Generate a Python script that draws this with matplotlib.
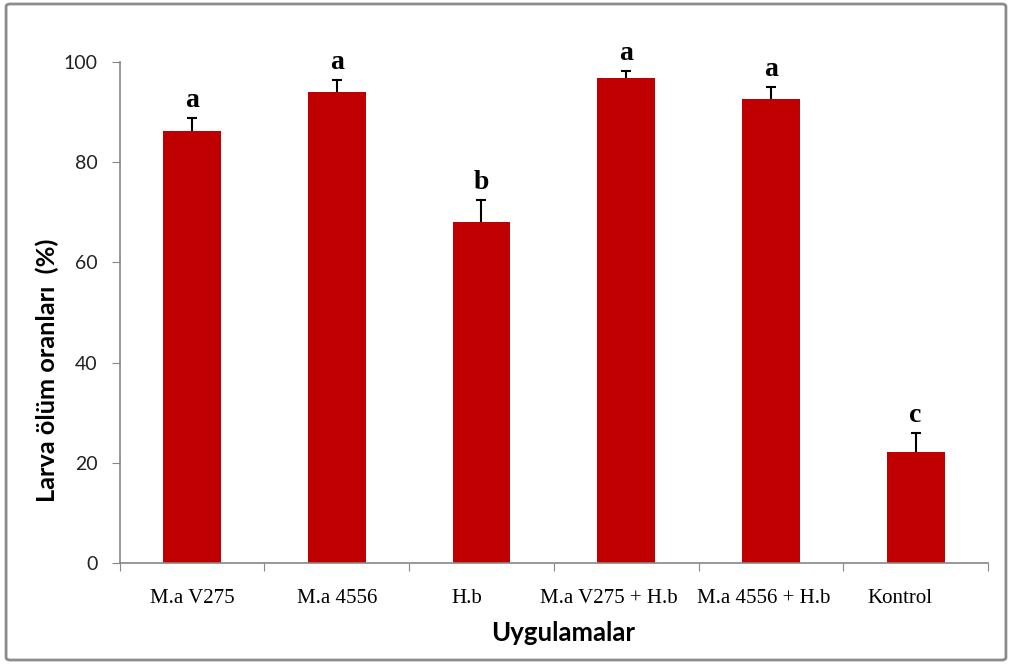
import matplotlib
matplotlib.use('Agg')
from matplotlib import pyplot as plt
from matplotlib.patches import FancyBboxPatch
from matplotlib.transforms import ScaledTranslation

# data
treatments = ['M.a V275', 'M.a 4556', 'H.b', 'M.a V275 + H.b', 'M.a 4556 + H.b', 'Kontrol']
mortality = [86.2, 94.0, 68.0, 96.8, 92.7, 22.1]
errors = [2.6, 2.4, 4.5, 1.4, 2.3, 3.8]
letters = ['a', 'a', 'b', 'a', 'a', 'c']

fig = plt.figure(figsize=(10.12, 6.64), dpi=100)
ax = fig.add_axes([0.1182, 0.1526, 0.8581, 0.7536])

pos = [i + 0.5 for i in range(len(treatments))]
ax.bar(pos, mortality, width=0.4, color='#C00000', zorder=2)
eb = ax.errorbar(pos, mortality, yerr=[[0] * len(errors), errors], fmt='none',
                 ecolor='black', elinewidth=1.5, capsize=3.3, capthick=1.5, zorder=3)
# only the upper cap is shown
eb[1][0].set_visible(False)

# significance letters
for x, m, e, l in zip(pos, mortality, errors, letters):
    ax.text(x, m + e + 1.0, l, ha='center', va='bottom', fontsize=20,
            fontweight='bold', family='Liberation Serif')

ax.set_xlim(0, 6)
ax.set_ylim(0, 100)
ax.set_yticks([0, 20, 40, 60, 80, 100])
ax.set_xticks(range(7))
ax.set_xticklabels([])
ax.set_xticks(pos, minor=True)
ax.set_xticklabels(treatments, minor=True, family='Liberation Serif', fontsize=15)
ax.tick_params(axis='x', which='minor', length=0, pad=19)
ax.tick_params(axis='x', which='major', length=6, color='#868686')
ax.tick_params(axis='y', length=6, color='#868686', pad=10, labelsize=14, labelcolor='#222222')
for t in ax.get_yticklabels():
    t.set_family('Lato')

# the labels in the original sit a little left of some bars
shift_px = [0, 0, -15, -17, -7, -16]
for t, dx in zip(ax.get_xticklabels(minor=True), shift_px):
    t.set_transform(t.get_transform() + ScaledTranslation(dx / 100, 0, fig.dpi_scale_trans))

for s in ['top', 'right']:
    ax.spines[s].set_visible(False)
for s in ['left', 'bottom']:
    ax.spines[s].set_color('#868686')
    ax.spines[s].set_linewidth(1.2)

ax.set_ylabel('Larva ölüm oranları  (%)', fontsize=18.3, fontweight='bold', family='Lato')
ax.yaxis.set_label_coords(-0.0836, 0.385)
ax.yaxis.label.set_va('center')
ax.set_xlabel('Uygulamalar', fontsize=18.5, fontweight='bold', family='Lato')
ax.xaxis.set_label_coords(0.5106, -0.1405)
ax.xaxis.label.set_va('center')

# outer frame around the chart
frame = FancyBboxPatch((0.006, 0.006), 0.988, 0.988, boxstyle='round,pad=0,rounding_size=0.004',
                       transform=fig.transFigure, fill=False, edgecolor='#8c8c8c', linewidth=2)
fig.patches.append(frame)

fig.savefig('out.png', dpi=100)
